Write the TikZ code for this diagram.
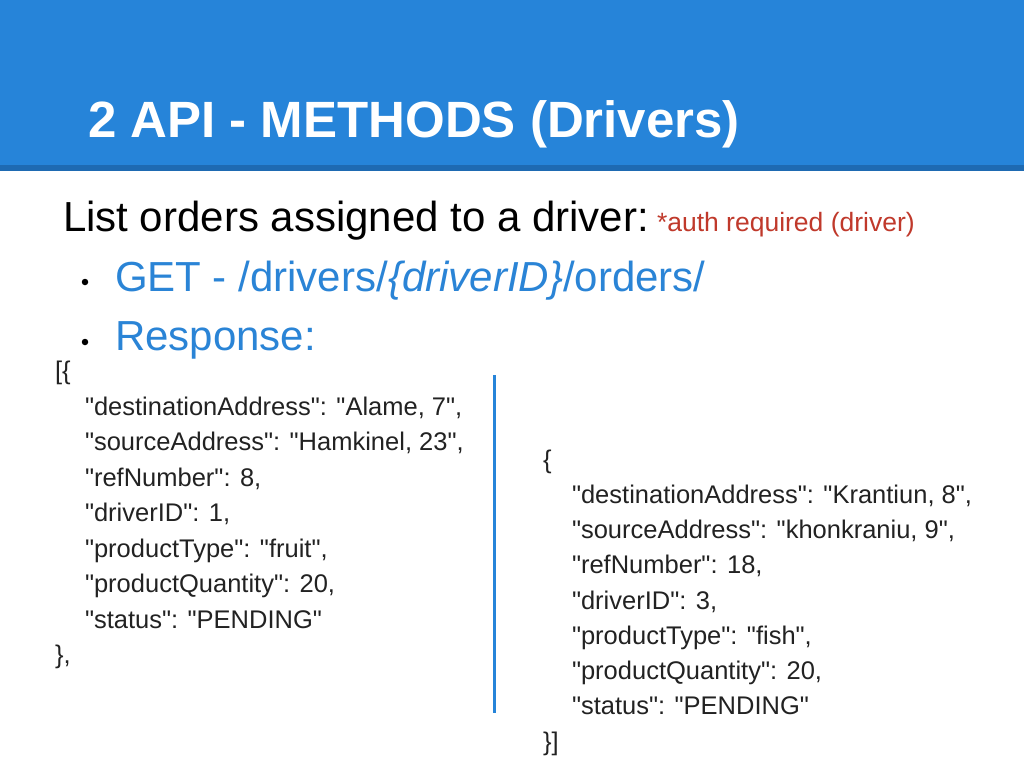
\documentclass[tikz,border=0pt]{standalone}
\usepackage{fontspec}
\setmainfont[Ligatures=TeXOff]{Liberation Sans}
\definecolor{hdrblue}{RGB}{38,132,217}
\definecolor{hdrdark}{RGB}{30,106,178}
\definecolor{txtblue}{RGB}{42,132,214}
\definecolor{authred}{RGB}{192,57,43}
\definecolor{jsongray}{RGB}{34,34,34}
\tikzset{
  txt/.style={anchor=base west, inner sep=0pt, outer sep=0pt},
  titletxt/.style={txt, text=white, font=\fontsize{51}{60}\selectfont\bfseries},
  bigtxt/.style={txt, font=\fontsize{42}{50}\selectfont},
  authtxt/.style={txt, text=authred, font=\fontsize{26.5}{32}\selectfont},
  jsontxt/.style={txt, text=jsongray, font=\fontsize{25.5}{30}\selectfont},
  bulletdot/.style={circle, fill=black, inner sep=0pt, minimum size=6.5pt},
}
\begin{document}
\begin{tikzpicture}[x=1pt,y=-1pt]
\useasboundingbox (0,0) rectangle (1024,768);
\fill[white] (0,0) rectangle (1024,768);
% header
\fill[hdrblue] (0,0) rectangle (1024,165);
\fill[hdrdark] (0,165) rectangle (1024,171);
\node[titletxt] (title) at (88,137) {2 API - METHODS (Drivers)};
% heading line
\node[bigtxt] (list) at (63,231) {List orders assigned to a driver:};
\node[authtxt] (auth) at (657,231) {*auth required (driver)};
% bullets
\node[bulletdot] (b1) at (85,282) {};
\node[bigtxt, text=txtblue] (get) at (115,291) {GET - /drivers/\textit{\{driverID\}}/orders/};
\node[bulletdot] (b2) at (85,342) {};
\node[bigtxt, text=txtblue] (resp) at (115,350) {Response:};
% left json
\node[jsontxt] (l0) at (55,379.5) {[\{};
\node[jsontxt] (l1) at (85,415) {"destinationAddress": "Alame, 7",};
\node[jsontxt] (l2) at (85,450.5) {"sourceAddress": "Hamkinel, 23",};
\node[jsontxt] (l3) at (85,486) {"refNumber": 8,};
\node[jsontxt] (l4) at (85,521.5) {"driverID": 1,};
\node[jsontxt] (l5) at (85,557) {"productType": "fruit",};
\node[jsontxt] (l6) at (85,592.5) {"productQuantity": 20,};
\node[jsontxt] (l7) at (85,628) {"status": "PENDING"};
\node[jsontxt] (l8) at (55,663) {\},};
% divider
\coordinate (dtop) at (494,375);
\coordinate (dbot) at (494,713);
\draw[hdrblue, line width=3pt] (dtop) -- (dbot);
% right json
\node[jsontxt] (r0) at (543,468) {\{};
\node[jsontxt] (r1) at (572,503.5) {"destinationAddress": "Krantiun, 8",};
\node[jsontxt] (r2) at (572,538.7) {"sourceAddress": "khonkraniu, 9",};
\node[jsontxt] (r3) at (572,573.9) {"refNumber": 18,};
\node[jsontxt] (r4) at (572,609.1) {"driverID": 3,};
\node[jsontxt] (r5) at (572,644.3) {"productType": "fish",};
\node[jsontxt] (r6) at (572,679.5) {"productQuantity": 20,};
\node[jsontxt] (r7) at (572,714.7) {"status": "PENDING"};
\node[jsontxt] (r8) at (543,750) {\}]};
\end{tikzpicture}
\end{document}
